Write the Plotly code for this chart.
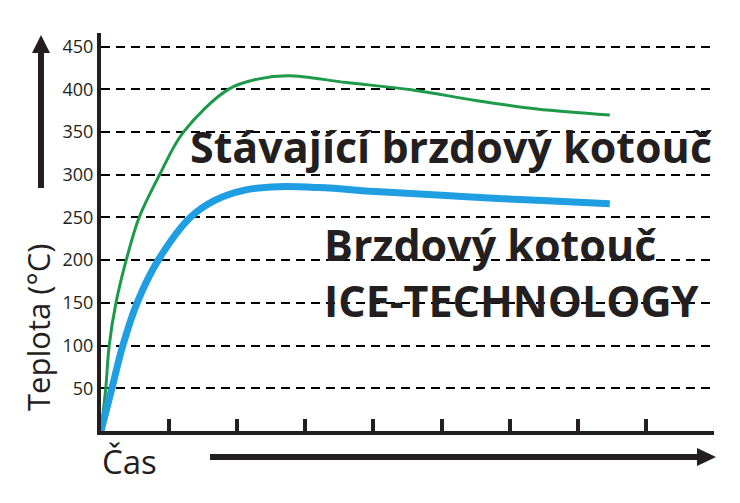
import plotly.graph_objects as go

# values (time in tick units, temperature in °C)
green_t = [0, 0.07, 0.12, 0.22, 0.37, 0.56, 0.86, 1.21, 1.87, 2.3, 2.75, 3.6, 4.6, 5.5, 6.4, 7.47]
green_temp = [0, 50, 100, 150, 200, 250, 300, 350, 400, 412, 416, 408, 399, 387, 377, 370]

blue_t = [0, 0.16, 0.32, 0.53, 0.84, 1.31, 1.67, 2.11, 2.6, 3.2, 4.1, 5.0, 5.9, 6.7, 7.47]
blue_temp = [0, 50, 100, 150, 200, 250, 270, 282, 286, 285, 280, 276, 272, 269, 266]

y_ticks = [50, 100, 150, 200, 250, 300, 350, 400, 450]
x_ticks = [1, 2, 3, 4, 5, 6, 7, 8]

INK = "#231f20"
FONT = "Open Sans"

# page is 740x503, the html body adds an 8px margin around the figure
OFF = 8
W, H = 740 - OFF, 503 - OFF
# plot area in page pixels
X0, X1, Y0, Y1 = 101, 714, 33, 431
L, R, T, B = X0 - OFF, 740 - X1, Y0 - OFF, 503 - Y1


def px(x, y):
    """page pixel -> paper coords"""
    return (x - X0) / (X1 - X0), (Y1 - y) / (Y1 - Y0)


def path(points):
    pts = [px(x, y) for x, y in points]
    return "M" + "L".join(f"{a:.4f},{b:.4f}" for a, b in pts) + "Z"


fig = go.Figure()

fig.add_trace(go.Scatter(
    x=green_t, y=green_temp, mode="lines",
    line=dict(color="#1c9a4a", width=3, shape="spline", smoothing=1.0),
    hoverinfo="skip",
))
fig.add_trace(go.Scatter(
    x=blue_t, y=blue_temp, mode="lines",
    line=dict(color="#1f9fe2", width=7, shape="spline", smoothing=1.0),
    hoverinfo="skip",
))

# axis arrows
shapes = [
    dict(type="path", xref="paper", yref="paper", line=dict(width=0), fillcolor=INK,
         path=path([(38, 188), (44, 188), (44, 50), (38, 50)])),
    dict(type="path", xref="paper", yref="paper", line=dict(width=0), fillcolor=INK,
         path=path([(32, 53), (50, 53), (41, 35)])),
    dict(type="path", xref="paper", yref="paper", line=dict(width=0), fillcolor=INK,
         path=path([(210, 454), (700, 454), (700, 460), (210, 460)])),
    dict(type="path", xref="paper", yref="paper", line=dict(width=0), fillcolor=INK,
         path=path([(697, 448), (697, 466), (716, 457)])),
]

big = dict(family=FONT, size=43, color=INK, weight=700)
annotations = [
    dict(x=1.27, y=333, xref="x", yref="y", text="Stávající brzdový kotouč",
         showarrow=False, xanchor="left", yanchor="middle", font=big),
    dict(x=3.25, y=186, xref="x", yref="y", text="Brzdový kotouč<br>ICE-TECHNOLOGY",
         showarrow=False, xanchor="left", yanchor="middle", align="left", font=big),
    dict(x=px(38, 0)[0], y=px(0, 328)[1], xref="paper", yref="paper", text="Teplota (°C)",
         showarrow=False, textangle=-90, xanchor="center", yanchor="middle",
         font=dict(family=FONT, size=31, color=INK)),
    dict(x=px(100, 0)[0], y=px(0, 461)[1], xref="paper", yref="paper", text="Čas",
         showarrow=False, xanchor="left", yanchor="middle",
         font=dict(family=FONT, size=33, color=INK)),
]

fig.update_layout(
    width=W, height=H,
    margin=dict(l=L, r=R, t=T, b=B),
    paper_bgcolor="white", plot_bgcolor="white",
    showlegend=False,
    shapes=shapes,
    annotations=annotations,
    xaxis=dict(
        range=[0, 9], tickvals=x_ticks, showticklabels=False,
        ticks="inside", ticklen=12, tickwidth=3.5, tickcolor=INK,
        showgrid=False, zeroline=False,
        showline=True, linewidth=4, linecolor=INK,
    ),
    yaxis=dict(
        range=[0, 466], tickvals=y_ticks,
        tickfont=dict(family=FONT, size=18, color=INK),
        showgrid=True, gridcolor="black", gridwidth=2, griddash="9px,6px",
        zeroline=False, ticks="",
        showline=True, linewidth=4, linecolor=INK,
    ),
)

fig.write_html("out.html")
